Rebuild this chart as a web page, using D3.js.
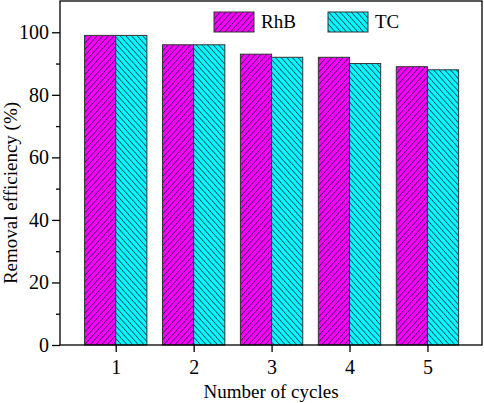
<!DOCTYPE html>
<html>
<head>
<meta charset="utf-8">
<script src="https://cdn.jsdelivr.net/npm/d3@7"></script>
<style>
  body { margin: 0; background: #fff; }
</style>
</head>
<body>
<div id="chart"></div>
<script>
// data
var cycles = [1, 2, 3, 4, 5];
var rhb = [99, 96, 93, 92, 89];
var tc = [99, 96, 92, 90, 88];
var seriesNames = ["RhB", "TC"];
var seriesColors = ["#ff00ff", "#00ffff"];
var yTicks = [0, 20, 40, 60, 80, 100];
var yMinor = [10, 30, 50, 70, 90];

var serif = "Liberation Serif, Times New Roman, serif";

var margin = {top: 1, right: 2, bottom: 58, left: 60},
    width = 484 - margin.left - margin.right,
    height = 403 - margin.top - margin.bottom;

var svg = d3.select("#chart")
  .append("svg")
    .attr("width", 484)
    .attr("height", 403)
    .attr("font-family", serif)
  .append("g")
    .attr("transform", "translate(" + margin.left + "," + margin.top + ")");

// hatch patterns: "/" for RhB, "\" for TC
var defs = svg.append("defs");
function hatch(id, color, dir) {
  var p = defs.append("pattern")
    .attr("id", id)
    .attr("patternUnits", "userSpaceOnUse")
    .attr("width", 4.2)
    .attr("height", 10)
    .attr("patternTransform", "rotate(" + dir + ")");
  p.append("rect").attr("width", 4.2).attr("height", 10).attr("fill", color);
  p.append("line")
    .attr("x1", 0.5).attr("y1", 0).attr("x2", 0.5).attr("y2", 10)
    .attr("stroke", "#1a1a40").attr("stroke-width", 0.8);
}
hatch("hatchRhB", seriesColors[0], 42);
hatch("hatchTC", seriesColors[1], -42);
var fills = ["url(#hatchRhB)", "url(#hatchTC)"];

var x = d3.scaleLinear()
  .domain([0.285, 5.7])
  .range([0, width]);

var y = d3.scaleLinear()
  .domain([0, 110])
  .range([height, 0]);

var barW = x(1.4) - x(1);
var all = [rhb, tc];

all.forEach(function(vals, s) {
  svg.selectAll(".bar" + s)
    .data(vals)
    .enter()
    .append("rect")
      .attr("x", function(d, i) { return x(cycles[i]) + (s === 0 ? -barW : 0); })
      .attr("y", function(d) { return y(d); })
      .attr("width", barW)
      .attr("height", function(d) { return height - y(d); })
      .attr("fill", fills[s])
      .attr("stroke", "#333")
      .attr("stroke-width", 1);
});

// frame
svg.append("rect")
  .attr("x", 0).attr("y", 0)
  .attr("width", width).attr("height", height)
  .attr("fill", "none")
  .attr("stroke", "#000")
  .attr("stroke-width", 1.3);

// X axis
var xAxis = svg.append("g")
  .attr("transform", "translate(0," + height + ")")
  .call(d3.axisBottom(x).tickValues(cycles).tickFormat(d3.format("d")).tickSize(7).tickPadding(8));
xAxis.attr("font-family", serif).attr("font-size", 20);
xAxis.select(".domain").remove();
xAxis.selectAll("line").attr("stroke", "#000").attr("stroke-width", 1.3);
xAxis.selectAll("text").attr("font-family", serif).attr("fill", "#000");

// Y axis
var yAxis = svg.append("g")
  .call(d3.axisLeft(y).tickValues(yTicks).tickFormat(d3.format("d")).tickSize(8).tickPadding(3));
yAxis.attr("font-family", serif).attr("font-size", 20);
yAxis.select(".domain").remove();
yAxis.selectAll("line").attr("stroke", "#000").attr("stroke-width", 1.3);
yAxis.selectAll("text").attr("font-family", serif).attr("fill", "#000");

svg.append("g")
  .call(d3.axisLeft(y).tickValues(yMinor).tickFormat("").tickSize(4))
  .call(function(g) { g.select(".domain").remove(); })
  .selectAll("line").attr("stroke", "#000").attr("stroke-width", 1.3);

// axis titles
svg.append("text")
  .attr("x", width / 2)
  .attr("y", height + 53)
  .attr("text-anchor", "middle")
  .attr("font-family", serif)
  .attr("font-size", 19)
  .text("Number of cycles");

svg.append("text")
  .attr("transform", "translate(-43," + (y(0) + y(110)) / 2 + ") rotate(-90)")
  .attr("x", -20)
  .attr("text-anchor", "middle")
  .attr("font-family", serif)
  .attr("font-size", 19)
  .text("Removal efficiency (%)");

// legend
var legendX = [154, 268];
seriesNames.forEach(function(name, s) {
  var g = svg.append("g").attr("transform", "translate(" + legendX[s] + ",11)");
  g.append("rect")
    .attr("width", 40).attr("height", 20)
    .attr("fill", fills[s])
    .attr("stroke", "#333")
    .attr("stroke-width", 1);
  g.append("text")
    .attr("x", 47).attr("y", 16)
    .attr("font-family", serif)
    .attr("font-size", 19)
    .text(name);
});
</script>
</body>
</html>
